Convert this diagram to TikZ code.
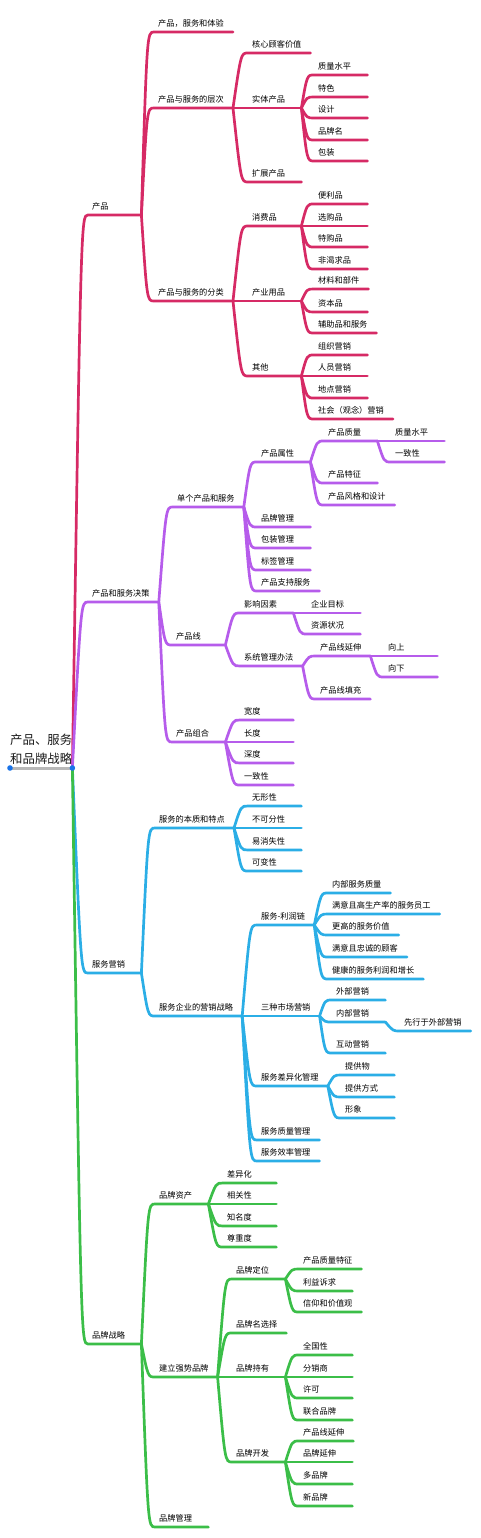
\documentclass[tikz,border=0pt]{standalone}
\usepackage{fontspec}
\setmainfont{Noto Sans CJK SC}
\usepackage{tikz}
\usetikzlibrary{calc}

\definecolor{cRed}{HTML}{D62A65}
\definecolor{cPurple}{HTML}{B65CEB}
\definecolor{cBlue}{HTML}{2BAEE6}
\definecolor{cGreen}{HTML}{3BBE48}
\definecolor{cGray}{HTML}{B8B8B8}
\definecolor{cDot}{HTML}{1A73E8}
\newbox\tpbox

\begin{document}
\begin{tikzpicture}[x=1pt, y=-1pt]

	\tikzset{
		topic/.style={
				anchor=south west, inner sep=0pt, text depth=5.5pt, text=black,
				font=\fontsize{8.2}{10}\selectfont,
				execute at begin node={\kern4pt\setbox\tpbox\hbox\bgroup},
				execute at end node={\egroup\ifdim\wd\tpbox<40pt\wd\tpbox=40pt\fi\box\tpbox\kern9pt}
			},
		root/.style={
				anchor=south west, inner sep=0pt, text depth=4.8pt, align=left, text=black!90,
				font=\fontsize{12.4}{19}\selectfont
			},
		link/.style={line width=2.7pt, line cap=round},
	}
	\useasboundingbox (0,0) rectangle (480,1538);

	\node[root](root) at (10,768){产品、服务\\和品牌战略};

	% 产品
	\node[topic](pr) at (88,215){产品};
	\node[topic](pr1) at (154,32){产品，服务和体验};
	\node[topic](pr2) at (154,108){产品与服务的层次};
	\node[topic](pr21) at (248,53){核心顾客价值};
	\node[topic](pr22) at (248,108){实体产品};
	\node[topic](pr221) at (314,75){质量水平};
	\node[topic](pr222) at (314,97){特色};
	\node[topic](pr223) at (314,118){设计};
	\node[topic](pr224) at (314,140){品牌名};
	\node[topic](pr225) at (314,161){包装};
	\node[topic](pr23) at (248,182){扩展产品};
	\node[topic](pr3) at (154,301){产品与服务的分类};
	\node[topic](pr31) at (248,226){消费品};
	\node[topic](pr311) at (314,204){便利品};
	\node[topic](pr312) at (314,226){选购品};
	\node[topic](pr313) at (314,247){特购品};
	\node[topic](pr314) at (314,269){非渴求品};
	\node[topic](pr32) at (248,301){产业用品};
	\node[topic](pr321) at (314,289){材料和部件};
	\node[topic](pr322) at (314,312){资本品};
	\node[topic](pr323) at (314,333){辅助品和服务};
	\node[topic](pr33) at (248,376){其他};
	\node[topic](pr331) at (314,355){组织营销};
	\node[topic](pr332) at (314,376){人员营销};
	\node[topic](pr333) at (314,398){地点营销};
	\node[topic](pr334) at (314,419){社会（观念）营销};

	% 产品和服务决策
	\node[topic](pd) at (88,602){产品和服务决策};
	\node[topic](pd1) at (173,507){单个产品和服务};
	\node[topic](pd11) at (257,462){产品属性};
	\node[topic](pd111) at (324,441){产品质量};
	\node[topic](pd1111) at (391,441){质量水平};
	\node[topic](pd1112) at (391,462){一致性};
	\node[topic](pd112) at (324,483){产品特征};
	\node[topic](pd113) at (324,505){产品风格和设计};
	\node[topic](pd12) at (257,527){品牌管理};
	\node[topic](pd13) at (257,548){包装管理};
	\node[topic](pd14) at (257,570){标签管理};
	\node[topic](pd15) at (257,591){产品支持服务};
	\node[topic](pd2) at (172,645){产品线};
	\node[topic](pd21) at (240,613){影响因素};
	\node[topic](pd211) at (307,613){企业目标};
	\node[topic](pd212) at (307,634){资源状况};
	\node[topic](pd22) at (240,666){系统管理办法};
	\node[topic](pd221) at (316,656){产品线延伸};
	\node[topic](pd2211) at (384,656){向上};
	\node[topic](pd2212) at (384,677){向下};
	\node[topic](pd222) at (316,699){产品线填充};
	\node[topic](pd3) at (172,742){产品组合};
	\node[topic](pd31) at (240,720){宽度};
	\node[topic](pd32) at (240,742){长度};
	\node[topic](pd33) at (240,763){深度};
	\node[topic](pd34) at (240,785){一致性};

	% 服务营销
	\node[topic](sm) at (88,973){服务营销};
	\node[topic](sm1) at (155,828){服务的本质和特点};
	\node[topic](sm11) at (248,806){无形性};
	\node[topic](sm12) at (248,828){不可分性};
	\node[topic](sm13) at (248,850){易消失性};
	\node[topic](sm14) at (248,871){可变性};
	\node[topic](sm2) at (155,1016){服务企业的营销战略};
	\node[topic](sm21) at (257,925){服务-利润链};
	\node[topic](sm211) at (328,893){内部服务质量};
	\node[topic](sm212) at (328,914){满意且高生产率的服务员工};
	\node[topic](sm213) at (328,935){更高的服务价值};
	\node[topic](sm214) at (328,957){满意且忠诚的顾客};
	\node[topic](sm215) at (328,979){健康的服务利润和增长};
	\node[topic](sm22) at (257,1016){三种市场营销};
	\node[topic](sm221) at (332,1000){外部营销};
	\node[topic](sm222) at (332,1022){内部营销};
	\node[topic](sm2221) at (400,1031){先行于外部营销};
	\node[topic](sm223) at (332,1053){互动营销};
	\node[topic](sm23) at (257,1086){服务差异化管理};
	\node[topic](sm231) at (341,1075){提供物};
	\node[topic](sm232) at (341,1097){提供方式};
	\node[topic](sm233) at (341,1118){形象};
	\node[topic](sm24) at (257,1140){服务质量管理};
	\node[topic](sm25) at (257,1161){服务效率管理};

	% 品牌战略
	\node[topic](bs) at (88,1344){品牌战略};
	\node[topic](bs1) at (155,1204){品牌资产};
	\node[topic](bs11) at (223,1183){差异化};
	\node[topic](bs12) at (223,1204){相关性};
	\node[topic](bs13) at (223,1226){知名度};
	\node[topic](bs14) at (223,1247){尊重度};
	\node[topic](bs2) at (155,1377){建立强势品牌};
	\node[topic](bs21) at (232,1279){品牌定位};
	\node[topic](bs211) at (299,1269){产品质量特征};
	\node[topic](bs212) at (299,1291){利益诉求};
	\node[topic](bs213) at (299,1312){信仰和价值观};
	\node[topic](bs22) at (232,1333){品牌名选择};
	\node[topic](bs23) at (232,1377){品牌持有};
	\node[topic](bs231) at (299,1355){全国性};
	\node[topic](bs232) at (299,1377){分销商};
	\node[topic](bs233) at (299,1398){许可};
	\node[topic](bs234) at (299,1420){联合品牌};
	\node[topic](bs24) at (232,1462){品牌开发};
	\node[topic](bs241) at (299,1441){产品线延伸};
	\node[topic](bs242) at (299,1462){品牌延伸};
	\node[topic](bs243) at (299,1484){多品牌};
	\node[topic](bs244) at (299,1506){新品牌};
	\node[topic](bs3) at (155,1527){品牌管理};

	\foreach \a/\b in {root/pr, pr/pr1, pr/pr2, pr/pr3, pr2/pr21, pr2/pr22, pr2/pr23,
			pr22/pr221, pr22/pr222, pr22/pr223, pr22/pr224, pr22/pr225,
			pr3/pr31, pr3/pr32, pr3/pr33, pr31/pr311, pr31/pr312, pr31/pr313, pr31/pr314,
			pr32/pr321, pr32/pr322, pr32/pr323, pr33/pr331, pr33/pr332, pr33/pr333, pr33/pr334}
		\draw[link, draw=cRed] (\a.south east) .. controls ($(\b.south west)+(-7,0)$) .. (\b.south west) -- (\b.south east);

	\foreach \a/\b in {root/pd, pd/pd1, pd/pd2, pd/pd3, pd1/pd11, pd1/pd12, pd1/pd13, pd1/pd14, pd1/pd15,
			pd11/pd111, pd11/pd112, pd11/pd113, pd111/pd1111, pd111/pd1112,
			pd2/pd21, pd2/pd22, pd21/pd211, pd21/pd212, pd22/pd221, pd22/pd222, pd221/pd2211, pd221/pd2212,
			pd3/pd31, pd3/pd32, pd3/pd33, pd3/pd34}
		\draw[link, draw=cPurple] (\a.south east) .. controls ($(\b.south west)+(-7,0)$) .. (\b.south west) -- (\b.south east);

	\foreach \a/\b in {root/sm, sm/sm1, sm/sm2, sm1/sm11, sm1/sm12, sm1/sm13, sm1/sm14,
			sm2/sm21, sm2/sm22, sm2/sm23, sm2/sm24, sm2/sm25,
			sm21/sm211, sm21/sm212, sm21/sm213, sm21/sm214, sm21/sm215,
			sm22/sm221, sm22/sm222, sm22/sm223, sm222/sm2221, sm23/sm231, sm23/sm232, sm23/sm233}
		\draw[link, draw=cBlue] (\a.south east) .. controls ($(\b.south west)+(-7,0)$) .. (\b.south west) -- (\b.south east);

	\foreach \a/\b in {root/bs, bs/bs1, bs/bs2, bs/bs3, bs1/bs11, bs1/bs12, bs1/bs13, bs1/bs14,
			bs2/bs21, bs2/bs22, bs2/bs23, bs2/bs24, bs21/bs211, bs21/bs212, bs21/bs213,
			bs23/bs231, bs23/bs232, bs23/bs233, bs23/bs234, bs24/bs241, bs24/bs242, bs24/bs243, bs24/bs244}
		\draw[link, draw=cGreen] (\a.south east) .. controls ($(\b.south west)+(-7,0)$) .. (\b.south west) -- (\b.south east);

	\draw[line width=3pt, draw=cGray] (root.south west) -- (root.south east);
	\fill[cDot] (root.south west) circle (2.8) (root.south east) circle (2.8);

\end{tikzpicture}
\end{document}
